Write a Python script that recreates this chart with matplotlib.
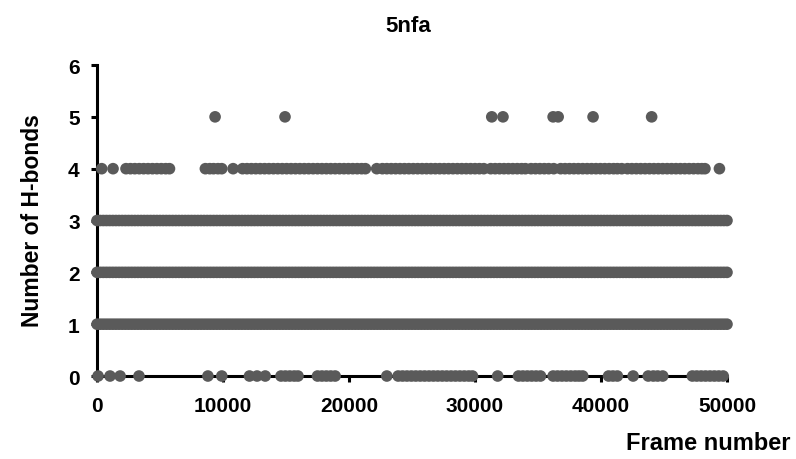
import matplotlib
matplotlib.use("Agg")
import matplotlib.pyplot as plt


# -------------------------
# Data (frame numbers per H-bond count)
# -------------------------
# counts 1, 2 and 3 occur all along the trajectory (solid rows)
frames_dense = [
    0, 250, 500, 750, 1000, 1250, 1500, 1750,
    2000, 2250, 2500, 2750, 3000, 3250, 3500, 3750,
    4000, 4250, 4500, 4750, 5000, 5250, 5500, 5750,
    6000, 6250, 6500, 6750, 7000, 7250, 7500, 7750,
    8000, 8250, 8500, 8750, 9000, 9250, 9500, 9750,
    10000, 10250, 10500, 10750, 11000, 11250, 11500, 11750,
    12000, 12250, 12500, 12750, 13000, 13250, 13500, 13750,
    14000, 14250, 14500, 14750, 15000, 15250, 15500, 15750,
    16000, 16250, 16500, 16750, 17000, 17250, 17500, 17750,
    18000, 18250, 18500, 18750, 19000, 19250, 19500, 19750,
    20000, 20250, 20500, 20750, 21000, 21250, 21500, 21750,
    22000, 22250, 22500, 22750, 23000, 23250, 23500, 23750,
    24000, 24250, 24500, 24750, 25000, 25250, 25500, 25750,
    26000, 26250, 26500, 26750, 27000, 27250, 27500, 27750,
    28000, 28250, 28500, 28750, 29000, 29250, 29500, 29750,
    30000, 30250, 30500, 30750, 31000, 31250, 31500, 31750,
    32000, 32250, 32500, 32750, 33000, 33250, 33500, 33750,
    34000, 34250, 34500, 34750, 35000, 35250, 35500, 35750,
    36000, 36250, 36500, 36750, 37000, 37250, 37500, 37750,
    38000, 38250, 38500, 38750, 39000, 39250, 39500, 39750,
    40000, 40250, 40500, 40750, 41000, 41250, 41500, 41750,
    42000, 42250, 42500, 42750, 43000, 43250, 43500, 43750,
    44000, 44250, 44500, 44750, 45000, 45250, 45500, 45750,
    46000, 46250, 46500, 46750, 47000, 47250, 47500, 47750,
    48000, 48250, 48500, 48750, 49000, 49250, 49500, 49750,
    50000,
]

frames_4 = [
    370, 1270,
    2300, 2650, 3000, 3350, 3700, 4050, 4400, 4750, 5100, 5450, 5750,
    8600, 8950, 9250, 9600, 9900,
    10800,
    11550, 11900, 12250, 12600, 12950, 13300, 13650, 14000, 14350, 14700,
    15050, 15400, 15750, 16100, 16450, 16800, 17150, 17500, 17850, 18200,
    18550, 18900, 19250, 19600, 19950, 20300, 20650, 21000, 21300,
    22200,
    22650, 23000, 23350, 23700, 24050, 24400, 24750, 25100, 25450, 25800,
    26150, 26500, 26850, 27200, 27550, 27900, 28250, 28600, 28950, 29300,
    29650, 30000, 30350, 30700,
    31250, 31600, 31950, 32300, 32650, 33000, 33350, 33700, 34000,
    34450, 34800, 35150, 35500, 35850, 36250,
    36800, 37150, 37500, 37850, 38200, 38550, 38900, 39250, 39600, 39950,
    40300, 40650, 41000, 41300, 41650,
    42100, 42450, 42800, 43150, 43500, 43850, 44200, 44550, 44900, 45250,
    45600, 45950, 46300, 46650, 47000, 47350, 47700, 48000, 48250,
    49400,
]

frames_0 = [
    80, 1030, 1830, 3330,
    8800, 9900,
    12100, 12700, 13350,
    14600, 14950, 15300, 15650, 15950,
    17500, 17850, 18200, 18550, 18900,
    23000,
    23900, 24250, 24600, 24950, 25300, 25650, 26000, 26350, 26700, 27050,
    27400, 27750, 28100, 28450, 28800, 29150, 29500, 29800,
    31800,
    33450, 33800, 34150, 34500, 34850, 35200,
    36200, 36550, 36900, 37250, 37600, 37950, 38250, 38550,
    40600, 40950, 41300,
    42550,
    43750, 44150, 44500, 44900,
    47250, 47600, 47950, 48300, 48650, 49000, 49350, 49700,
]

frames_5 = [9370, 14920, 31330, 32220, 36200, 36600, 39370, 44020]

y_ticks = [0, 1, 2, 3, 4, 5, 6]
x_ticks = [0, 10000, 20000, 30000, 40000, 50000]


# -------------------------
# Style
# -------------------------
plt.rcParams["font.family"] = ["Liberation Sans", "DejaVu Sans"]
plt.rcParams["font.weight"] = "bold"

DOT = "#5a5a5a"
DOT_SIZE = 70


def main():
    fig = plt.figure(figsize=(7.96, 4.6), dpi=100)
    ax = fig.add_axes([0.1219, 0.1804, 0.7914, 0.6761])

    series = [
        (frames_0, 0),
        (frames_dense, 1),
        (frames_dense, 2),
        (frames_dense, 3),
        (frames_4, 4),
        (frames_5, 5),
    ]
    for xs, level in series:
        ax.scatter(xs, [level] * len(xs), s=DOT_SIZE, color=DOT,
                   edgecolors="none", clip_on=False, zorder=3)

    ax.set_xlim(0, 50000)
    ax.set_ylim(0, 6)
    ax.set_xticks(x_ticks)
    ax.set_yticks(y_ticks)
    ax.set_xticklabels([str(v) for v in x_ticks])

    for side in ("top", "right"):
        ax.spines[side].set_visible(False)
    for side in ("left", "bottom"):
        ax.spines[side].set_linewidth(2.2)
        ax.spines[side].set_color("black")

    ax.tick_params(axis="both", direction="out", length=4.5, width=2.2,
                   labelsize=15, colors="black")
    ax.tick_params(axis="x", pad=10)
    ax.tick_params(axis="y", pad=8)
    for lab in ax.get_xticklabels() + ax.get_yticklabels():
        lab.set_fontweight("bold")

    fig.text(408 / 796, 1 - 27 / 460, "5nfa", ha="center", va="center",
             fontsize=16, fontweight="bold",
             family=["Liberation Sans Narrow", "Liberation Sans"])
    fig.text(33 / 796, 1 - 221 / 460, "Number of H-bonds", rotation=90,
             ha="center", va="center", fontsize=16.5, fontweight="bold")
    fig.text(790 / 796, 1 - 444 / 460, "Frame number", ha="right",
             va="center", fontsize=17, fontweight="bold")

    fig.savefig("out.png", dpi=100)
    plt.close(fig)


if __name__ == "__main__":
    main()
